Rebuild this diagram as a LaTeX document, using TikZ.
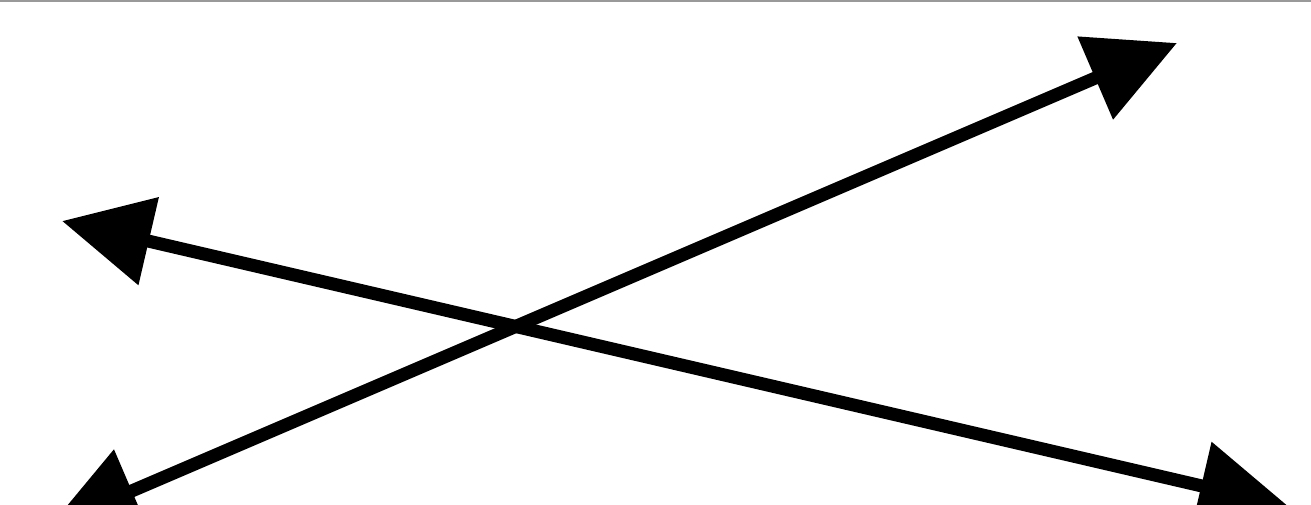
\documentclass[tikz,border=0pt]{standalone}
\usetikzlibrary{arrows.meta}
\begin{document}
\begin{tikzpicture}[x=1pt,y=-1pt,
  arr/.style={line width=13pt,{Triangle[length=89pt,width=87pt]}-{Triangle[length=89pt,width=87pt]}}]
\useasboundingbox (0,0) rectangle (1311,505);
\clip (0,0) rectangle (1311,505);
\fill[white] (0,0) rectangle (1311,505);
\draw[black!40,line width=3pt] (0,1) -- (1311,1);
\coordinate (tl) at (62,221);
\coordinate (br) at (1288,506);
\coordinate (tr) at (1177,43);
\coordinate (bl) at (50,526);
\draw[arr] (tl) -- (br);
\draw[arr] (bl) -- (tr);
\end{tikzpicture}
\end{document}
